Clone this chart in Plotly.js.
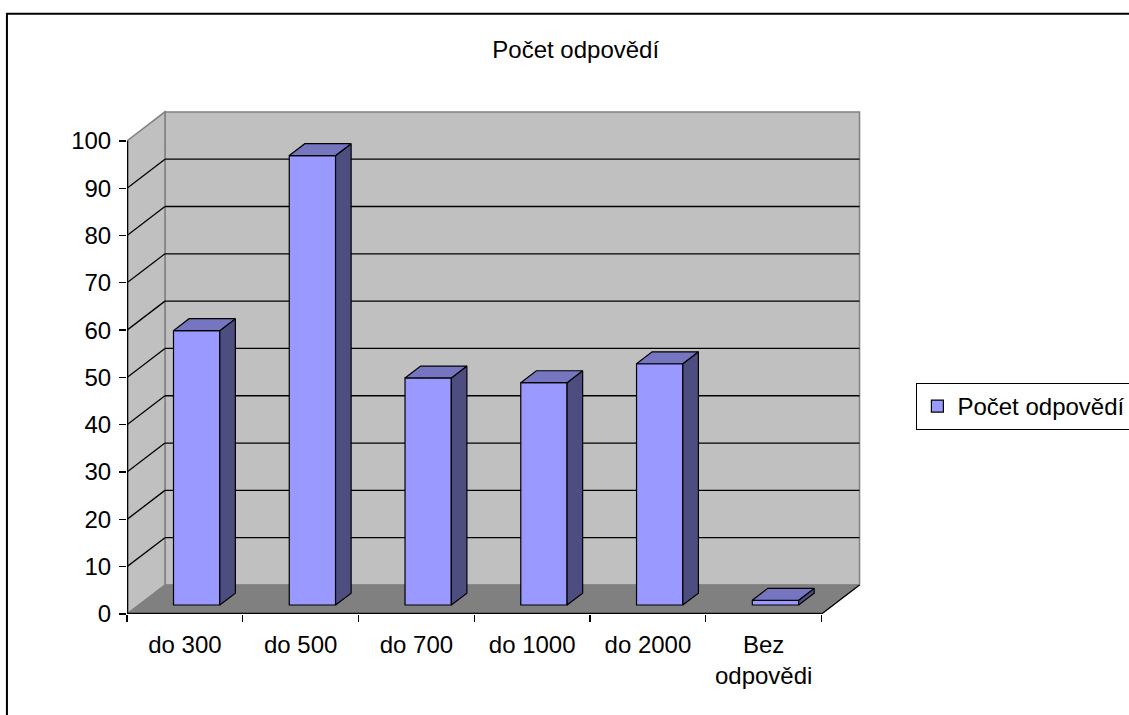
<!DOCTYPE html>
<html>
<head>
<meta charset="utf-8">
<script src="https://cdn.plot.ly/plotly-3.0.1.min.js"></script>
<style>
html,body{margin:0;padding:0;background:#fff;}
#chart{width:1129px;height:715px;}
</style>
</head>
<body>
<div id="chart"></div>
<script>
// ---- data ----
const categories = ['do 300', 'do 500', 'do 700', 'do 1000', 'do 2000', 'Bez<br>odpovědi'];
const values = [58, 95, 48, 47, 51, 1];
const seriesName = 'Počet odpovědí';
const chartTitle = 'Počet odpovědí';
const yTickValues = [0, 10, 20, 30, 40, 50, 60, 70, 80, 90, 100];

// ---- 3D look (in axis units) ----
const DX = 0.328;   // floor depth along x (categories)
const DY = 6.13;    // floor depth along y (value units)
const F0 = 0.31, F1 = 0.72; // bar front/back depth fractions
const BW = 0.4;     // bar width (categories)
const yMax = 100;
const n = categories.length;

const FONT = 'Liberation Sans, Arial, sans-serif';
const FS = 24;

// pixel layout
const pxX = 115.7, pxY = 4.73, x0px = 127, y0px = 614;
const xr = [-0.5, n - 0.5 + DX + 0.03];
const yr = [0, yMax + DY + 0.4];
const W = 1129, H = 715;
const mL = x0px;
const mR = W - (x0px + (xr[1] - xr[0]) * pxX);
const mB = H - y0px;
const mT = y0px - (yr[1] - yr[0]) * pxY;

// ---- traces ----
const frontX = values.map((v, i) => i + F0 * DX);
const barTrace = {
  type: 'bar', name: seriesName, x: frontX, y: values,
  base: values.map(() => F0 * DY), width: BW,
  marker: {color: '#9999FF', line: {color: '#000', width: 1.2}},
  hoverinfo: 'skip', showlegend: true
};

const sideX = [], sideY = [], topX = [], topY = [];
values.forEach((v, i) => {
  const l = i - BW / 2, r = i + BW / 2;
  sideX.push(r + F0 * DX, r + F1 * DX, r + F1 * DX, r + F0 * DX, r + F0 * DX, null);
  sideY.push(F0 * DY, F1 * DY, v + F1 * DY, v + F0 * DY, F0 * DY, null);
  topX.push(l + F0 * DX, r + F0 * DX, r + F1 * DX, l + F1 * DX, l + F0 * DX, null);
  topY.push(v + F0 * DY, v + F0 * DY, v + F1 * DY, v + F1 * DY, v + F0 * DY, null);
});
const sideTrace = {
  type: 'scatter', mode: 'lines', x: sideX, y: sideY, fill: 'toself',
  fillcolor: '#4D4D80', line: {color: '#000', width: 1.2}, showlegend: false, hoverinfo: 'skip'
};
const topTrace = {
  type: 'scatter', mode: 'lines', x: topX, y: topY, fill: 'toself',
  fillcolor: '#7575C0', line: {color: '#000', width: 1.2}, showlegend: false, hoverinfo: 'skip'
};

// ---- walls, floor, gridlines ----
const shapes = [];
const P = (pts) => 'M ' + pts.map(p => p[0] + ',' + p[1]).join(' L ') + ' Z';
// back wall
shapes.push({type: 'path', xref: 'x', yref: 'y', layer: 'below',
  path: P([[-0.5 + DX, DY], [n - 0.5 + DX, DY], [n - 0.5 + DX, yMax + DY], [-0.5 + DX, yMax + DY]]),
  fillcolor: '#C0C0C0', line: {color: '#808080', width: 1.5}});
// side wall
shapes.push({type: 'path', xref: 'x', yref: 'y', layer: 'below',
  path: P([[-0.5, 0], [-0.5 + DX, DY], [-0.5 + DX, yMax + DY], [-0.5, yMax]]),
  fillcolor: '#C0C0C0', line: {color: '#808080', width: 1.5}});
// floor
shapes.push({type: 'path', xref: 'x', yref: 'y', layer: 'below',
  path: P([[-0.5, 0], [n - 0.5, 0], [n - 0.5 + DX, DY], [-0.5 + DX, DY]]),
  fillcolor: '#808080', line: {color: '#808080', width: 1}});
// gridlines
yTickValues.filter(v => v > 0 && v < yMax).forEach(v => {
  shapes.push({type: 'line', xref: 'x', yref: 'y', layer: 'below',
    x0: -0.5 + DX, x1: n - 0.5 + DX, y0: v + DY, y1: v + DY, line: {color: '#000', width: 1.3}});
  shapes.push({type: 'line', xref: 'x', yref: 'y', layer: 'below',
    x0: -0.5, x1: -0.5 + DX, y0: v, y1: v + DY, line: {color: '#000', width: 1.3}});
});
// floor right edge
shapes.push({type: 'line', xref: 'x', yref: 'y', layer: 'below',
  x0: n - 0.5, x1: n - 0.5 + DX, y0: 0, y1: DY, line: {color: '#000', width: 1.3}});
// front axis lines
shapes.push({type: 'line', xref: 'x', yref: 'y', layer: 'above',
  x0: -0.5, x1: n - 0.5, y0: 0, y1: 0, line: {color: '#000', width: 2.6}});
shapes.push({type: 'line', xref: 'x', yref: 'y', layer: 'above',
  x0: -0.5, x1: -0.5, y0: 0, y1: yMax, line: {color: '#000', width: 2.6}});
// chart border
const plotW = W - mL - mR, plotH = H - mT - mB;
shapes.push({type: 'rect', xref: 'paper', yref: 'paper', layer: 'above',
  x0: (7 - mL) / plotW, x1: (W + 10 - mL) / plotW,
  y0: (H - mB - (H + 10)) / plotH, y1: (H - mB - 14) / plotH,
  line: {color: '#000', width: 2}, fillcolor: 'rgba(0,0,0,0)'});

const boundaries = categories.map((c, i) => i - 0.5).concat([n - 0.5]);

const layout = {
  width: W, height: H,
  margin: {l: mL, r: mR, t: mT, b: mB, pad: 0, autoexpand: false},
  paper_bgcolor: '#fff', plot_bgcolor: '#fff',
  font: {family: FONT, size: FS, color: '#000'},
  title: {text: chartTitle, font: {family: FONT, size: FS, color: '#000'},
    xref: 'paper', x: (575.5 - mL) / plotW, xanchor: 'center',
    yref: 'container', y: 1 - 50 / H, yanchor: 'middle'},
  showlegend: true,
  legend: {x: (916 - mL) / plotW, xanchor: 'left', y: (y0px - 383) / plotH, yanchor: 'top',
    bordercolor: '#000', borderwidth: 1, bgcolor: '#fff',
    font: {family: FONT, size: FS, color: '#000'}},
  xaxis: {range: xr, tickvals: categories.map((c, i) => i), ticktext: categories,
    ticks: '', showgrid: false, zeroline: false, showline: false, automargin: false,
    tickfont: {family: FONT, size: FS, color: '#000'}, ticklabelstandoff: 14,
    minor: {tickvals: boundaries, ticks: 'outside', ticklen: 7, tickwidth: 1.3, tickcolor: '#000', showgrid: false},
    fixedrange: true},
  yaxis: {range: yr, tickvals: yTickValues, ticks: 'outside', ticklen: 7, tickwidth: 1.3, tickcolor: '#000',
    showgrid: false, zeroline: false, showline: false, automargin: false,
    tickfont: {family: FONT, size: FS, color: '#000'}, ticklabelstandoff: 3, fixedrange: true},
  shapes: shapes,
  bargap: 0
};

Plotly.newPlot('chart', [barTrace, sideTrace, topTrace], layout, {staticPlot: true, displayModeBar: false});
</script>
</body>
</html>
